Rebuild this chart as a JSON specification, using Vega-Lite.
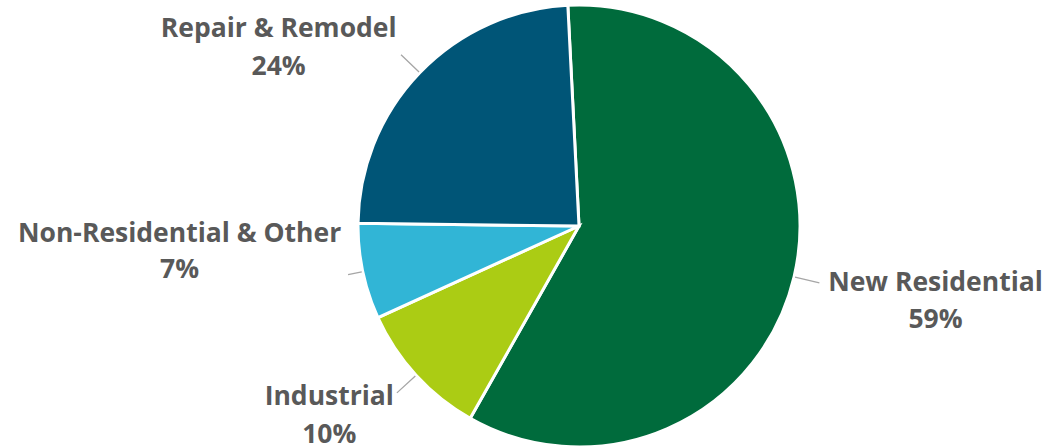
{
  "$schema": "https://vega.github.io/schema/vega-lite/v6.json",
  "width": 938,
  "height": 440,
  "autosize": {"type": "none"},
  "padding": {"left": 110, "top": 6, "right": 0, "bottom": 0},
  "background": "white",
  "config": {"view": {"stroke": null}},
  "data": {"values": [
    {"category": "New Residential", "pct": 59, "rank": 1},
    {"category": "Industrial", "pct": 10, "rank": 2},
    {"category": "Non-Residential & Other", "pct": 7, "rank": 3},
    {"category": "Repair & Remodel", "pct": 24, "rank": 4}
  ]},
  "transform": [{"calculate": "[datum.category, datum.pct + '%']", "as": "lbl"}],
  "encoding": {
    "theta": {"field": "pct", "type": "quantitative", "stack": true, "scale": {"range": [-0.0506, 6.2326]}},
    "order": {"field": "rank", "type": "quantitative", "sort": "ascending"}
  },
  "layer": [
    {
      "mark": {"type": "arc", "outerRadius": 221, "stroke": "white", "strokeWidth": 3},
      "encoding": {
        "color": {"field": "category", "type": "nominal", "legend": null,
          "scale": {"domain": ["New Residential", "Industrial", "Non-Residential & Other", "Repair & Remodel"],
                    "range": ["#006B3C", "#ABCC14", "#31B5D6", "#005577"]}}
      }
    },
    {
      "transform": [
        {"stack": "pct", "groupby": [], "sort": [{"field": "rank", "order": "ascending"}], "as": ["s0", "s1"]},
        {"calculate": "(datum.s0 + datum.s1) / 2", "as": "mid"},
        {"filter": "datum.category !== 'Non-Residential & Other'"}
      ],
      "mark": {"type": "arc", "radius": 247, "radius2": 222, "fill": "#A6A6A6", "fillOpacity": 0, "stroke": "#A6A6A6", "strokeWidth": 1.3},
      "encoding": {
        "theta": {"field": "mid", "type": "quantitative", "stack": null},
        "theta2": {"field": "mid"}
      }
    },
    {
      "transform": [
        {"stack": "pct", "groupby": [], "sort": [{"field": "rank", "order": "ascending"}], "as": ["s0", "s1"]},
        {"calculate": "(datum.s0 + datum.s1) / 2", "as": "mid"},
        {"filter": "datum.category === 'Non-Residential & Other'"}
      ],
      "mark": {"type": "arc", "radius": 236, "radius2": 222, "fill": "#A6A6A6", "fillOpacity": 0, "stroke": "#A6A6A6", "strokeWidth": 1.3},
      "encoding": {
        "theta": {"field": "mid", "type": "quantitative", "stack": null},
        "theta2": {"field": "mid"}
      }
    },
    {
      "mark": {"type": "text", "radius": 260, "dx": -113, "dy": -17, "font": "Open Sans", "fontSize": 26.5, "fontWeight": "bold", "fill": "#595959", "lineHeight": 38, "align": "center", "baseline": "middle"},
      "encoding": {"text": {"condition": {"test": "datum.category === 'Repair & Remodel'", "field": "lbl"}, "value": ""}}
    },
    {
      "mark": {"type": "text", "radius": 260, "dx": -145, "dy": -46, "font": "Open Sans", "fontSize": 26.5, "fontWeight": "bold", "fill": "#595959", "lineHeight": 36, "align": "center", "baseline": "middle"},
      "encoding": {"text": {"condition": {"test": "datum.category === 'Non-Residential & Other'", "field": "lbl"}, "value": ""}}
    },
    {
      "mark": {"type": "text", "radius": 260, "dx": -58, "dy": -5, "font": "Open Sans", "fontSize": 26.5, "fontWeight": "bold", "fill": "#595959", "lineHeight": 38, "align": "center", "baseline": "middle"},
      "encoding": {"text": {"condition": {"test": "datum.category === 'Industrial'", "field": "lbl"}, "value": ""}}
    },
    {
      "mark": {"type": "text", "radius": 260, "dx": 103.5, "dy": -3, "font": "Open Sans", "fontSize": 26.5, "fontWeight": "bold", "fill": "#595959", "lineHeight": 37.5, "align": "center", "baseline": "middle"},
      "encoding": {"text": {"condition": {"test": "datum.category === 'New Residential'", "field": "lbl"}, "value": ""}}
    }
  ]
}
